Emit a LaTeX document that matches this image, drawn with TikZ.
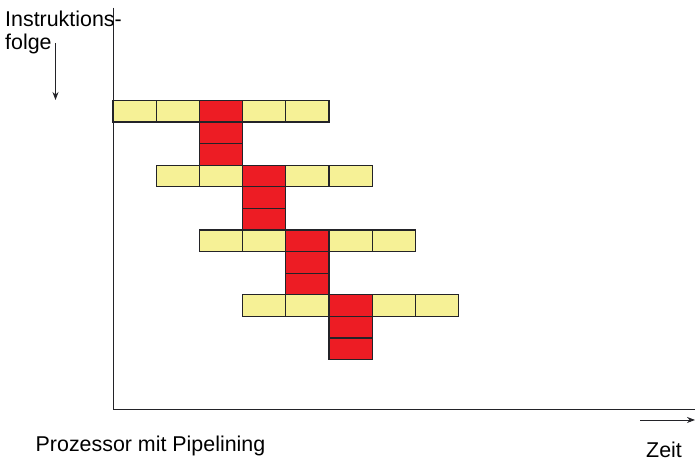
\documentclass[tikz,border=0pt]{standalone}
\usepackage{fontspec}
\setmainfont{Liberation Sans}
\usetikzlibrary{arrows.meta}
\definecolor{stageyellow}{RGB}{246,241,150}
\definecolor{stagered}{RGB}{237,28,36}
\definecolor{linegray}{RGB}{35,35,40}

\begin{document}
\begin{tikzpicture}[x=43.2pt,y=21.6pt]
\fontsize{21.4}{22}\selectfont
\useasboundingbox (-2.616,-2.407) rectangle (13.472,18.98);

% axes
\draw[line width=1pt,linegray] (0,18.63) -- (0,0) -- (13.472,0);

\foreach \i in {0,1,2,3}
{
  % one instruction: five stages in a row
  \foreach \s in {0,1,2,3,4}
  {
    \fill[stageyellow] (\i+\s,13.33-3*\i) rectangle (\i+\s+1,14.33-3*\i);
  }
  % stage in execution, two cycles below
  \foreach \k in {0,1,2}
  {
    \fill[stagered] (\i+2,13.33-3*\i-\k) rectangle (\i+3,14.33-3*\i-\k);
    \draw[line width=1.2pt,linegray] (\i+2,13.33-3*\i-\k) rectangle (\i+3,14.33-3*\i-\k);
  }
  \foreach \s in {0,1,3,4}
  {
    \draw[line width=1.2pt,linegray] (\i+\s,13.33-3*\i) rectangle (\i+\s+1,14.33-3*\i);
  }
}

\node (instr) at (-2.5,17.73) [anchor=base west,inner sep=0] {Instruktions-};
\node (folge) at (-2.5,16.71) [anchor=base west,inner sep=0] {folge};
\coordinate (fstart) at (-1.331,16.99);
\coordinate (fend) at (-1.331,14.35);
\draw[line width=0.9pt,linegray,-{Stealth[length=8pt,width=6pt]}] (fstart) -- (fend);

\node (proz) at (-1.794,-1.931) [anchor=base west,inner sep=0] {Prozessor mit Pipelining};
\coordinate (tstart) at (12.199,-0.463);
\coordinate (tend) at (13.472,-0.463);
\draw[line width=0.9pt,linegray,-{Stealth[length=8pt,width=6pt]}] (tstart) -- (tend);
\node (zeit) at (12.338,-2.222) [anchor=base west,inner sep=0] {Zeit};

\end{tikzpicture}
\end{document}
